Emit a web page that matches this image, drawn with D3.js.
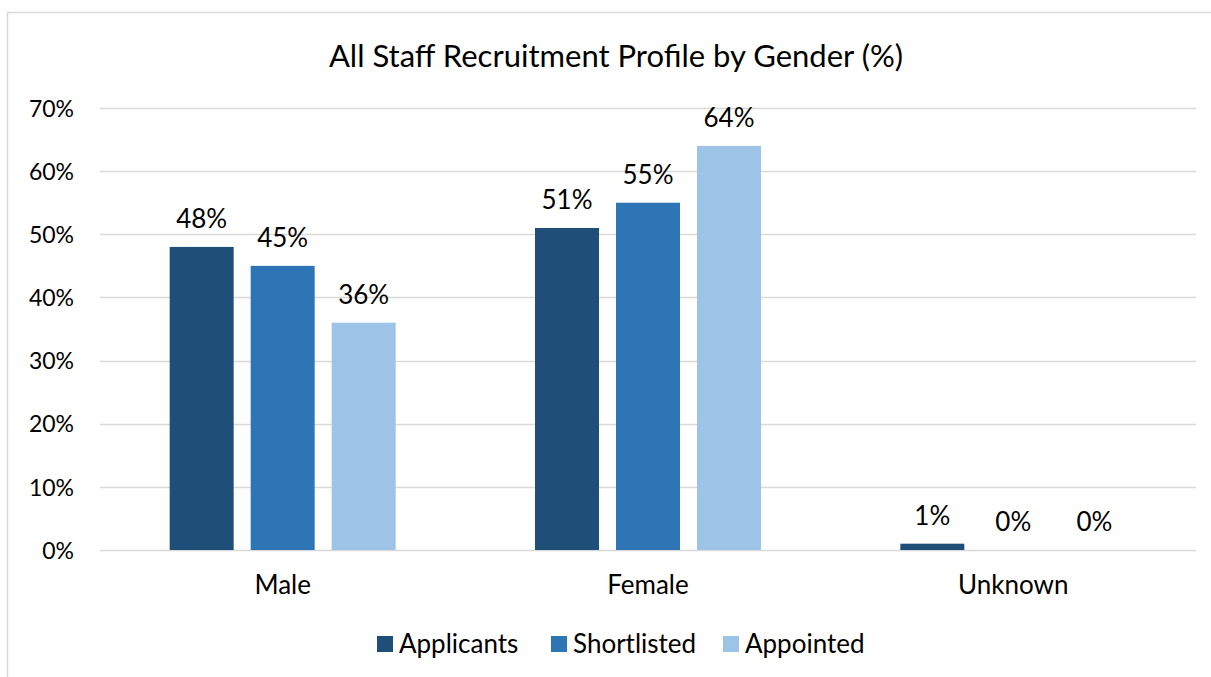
<!DOCTYPE html>
<html>
<head>
<meta charset="utf-8">
<script src="https://cdn.jsdelivr.net/npm/d3@7"></script>
<style>
    body { margin: 0; background: #fff; }
    text { font-family: Lato, "Open Sans", sans-serif; fill: #000; }
</style>
</head>
<body>
<div id="chart"></div>
<script>
// Chart data
var categories = ["Male", "Female", "Unknown"];
var seriesNames = ["Applicants", "Shortlisted", "Appointed"];
var applicants = [48, 51, 1];
var shortlisted = [45, 55, 0];
var appointed = [36, 64, 0];
var yTicks = [0, 10, 20, 30, 40, 50, 60, 70];
var colors = ["#1f4e79", "#2e75b6", "#9dc3e6"];

var width = 1211;
var height = 677;

var svg = d3.select("#chart").append("svg")
    .attr("width", width)
    .attr("height", height);

// Chart border (runs off the right and bottom edges)
svg.append("rect")
    .attr("x", 7.5).attr("y", 12.5)
    .attr("width", 1220).attr("height", 700)
    .attr("fill", "none")
    .attr("stroke", "#d9d9d9")
    .attr("stroke-width", 1.5);

var plot = { left: 100, right: 1196, top: 108, bottom: 550 };

var x0 = d3.scaleBand()
    .domain(categories)
    .range([plot.left, plot.right]);

var x1 = d3.scaleBand()
    .domain(seriesNames)
    .range([0, x0.bandwidth()])
    .paddingInner(0.21)
    .paddingOuter(0.86);

var y = d3.scaleLinear()
    .domain([0, 70])
    .range([plot.bottom, plot.top]);

// Gridlines
svg.append("g").selectAll("line")
    .data(yTicks)
    .enter().append("line")
    .attr("x1", plot.left).attr("x2", plot.right)
    .attr("y1", function(d) { return Math.round(y(d)) + 0.5; })
    .attr("y2", function(d) { return Math.round(y(d)) + 0.5; })
    .style("stroke", "#d9d9d9")
    .style("stroke-width", 1.5);

// Y axis labels
var yAxis = d3.axisLeft(y)
    .tickValues(yTicks)
    .tickSize(0)
    .tickPadding(0)
    .tickFormat(function(d) { return d + "%"; });
var yG = svg.append("g")
    .attr("transform", "translate(74,0)")
    .call(yAxis);
yG.select(".domain").remove();
yG.selectAll("text").style("font-size", "23px").attr("dy", "0.36em");

// X axis labels
var xAxis = d3.axisBottom(x0).tickSize(0).tickPadding(0);
var xG = svg.append("g")
    .attr("transform", "translate(0," + (plot.bottom + 26) + ")")
    .call(xAxis);
xG.select(".domain").remove();
xG.selectAll("text").style("font-size", "26px").attr("dy", "0.71em");

// Bars
var series = [applicants, shortlisted, appointed];
var rows = [];
categories.forEach(function(cat, i) {
    seriesNames.forEach(function(name, j) {
        rows.push({ cat: cat, name: name, value: series[j][i], color: colors[j] });
    });
});

var groups = svg.append("g");
groups.selectAll("rect")
    .data(rows)
    .enter().append("rect")
    .attr("x", function(d) { return x0(d.cat) + x1(d.name); })
    .attr("y", function(d) { return y(d.value); })
    .attr("width", x1.bandwidth())
    .attr("height", function(d) { return y(0) - y(d.value); })
    .attr("fill", function(d) { return d.color; });

// Data labels
groups.selectAll("text")
    .data(rows)
    .enter().append("text")
    .attr("x", function(d) { return x0(d.cat) + x1(d.name) + x1.bandwidth() / 2; })
    .attr("y", function(d) { return y(d.value) - 19; })
    .attr("text-anchor", "middle")
    .style("font-size", "26px")
    .text(function(d) { return d.value + "%"; });

// Title
svg.append("text")
    .attr("x", 616).attr("y", 67)
    .attr("text-anchor", "middle")
    .style("font-size", "31px")
    .text("All Staff Recruitment Profile by Gender (%)");

// Legend
var legendX = [377, 551, 723];
var legend = svg.append("g");
seriesNames.forEach(function(name, i) {
    legend.append("rect")
        .attr("x", legendX[i]).attr("y", 636)
        .attr("width", 16).attr("height", 16)
        .attr("fill", colors[i]);
    legend.append("text")
        .attr("x", legendX[i] + 22).attr("y", 653)
        .style("font-size", "26px")
        .text(name);
});
</script>
</body>
</html>
